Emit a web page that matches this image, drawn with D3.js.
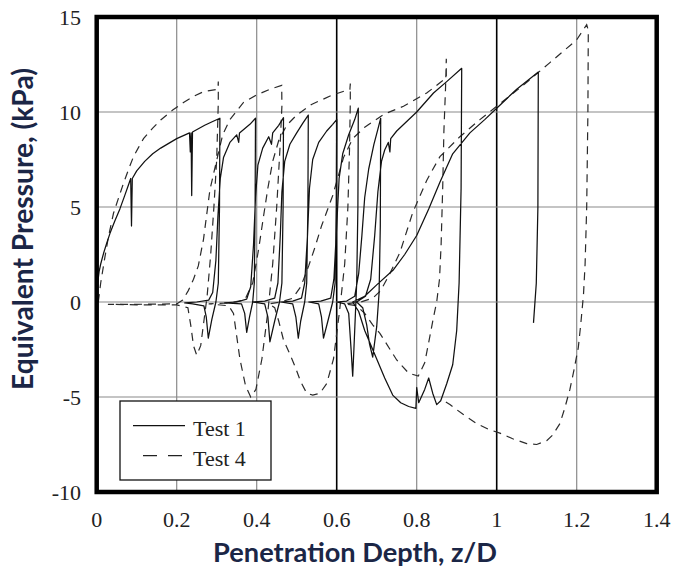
<!DOCTYPE html>
<html><head><meta charset="utf-8">
<script src="https://cdn.jsdelivr.net/npm/d3@7"></script>
<style>
html,body{margin:0;padding:0;background:#fff;}
svg{display:block;}
</style></head>
<body>
<script>
// ---------- data ----------
const xTicks = [0, 0.2, 0.4, 0.6, 0.8, 1, 1.2, 1.4];
const yTicks = [-10, -5, 0, 5, 10, 15];
const xTickLabels = ["0", "0.2", "0.4", "0.6", "0.8", "1", "1.2", "1.4"];
const yTickLabels = ["-10", "-5", "0", "5", "10", "15"];
const xTitle = "Penetration Depth, z/D";
const yTitle = "Equivalent Pressure, (kPa)";
const seriesNames = ["Test 1", "Test 4"];

// Test 1 (solid): [z/D, kPa]
const test1 = [
 [0,0],[0.001,0.6],[0.003,1.1],[0.006,1.6],[0.01,2.0],[0.017,2.55],[0.025,3.1],[0.033,3.6],[0.045,4.25],[0.058,4.9],[0.07,5.6],[0.08,6.2],[0.085,6.5],[0.087,4.0],[0.089,6.5],
 [0.1,6.9],[0.12,7.4],[0.14,7.8],[0.16,8.1],[0.18,8.35],[0.2,8.6],[0.232,8.9],[0.234,7.9],[0.236,8.9],[0.2375,5.6],[0.2395,8.95],[0.27,9.3],[0.29,9.5],[0.308,9.67],
 [0.307,5],[0.304,1],[0.298,0],[0.288,-0.9],[0.279,-1.9],[0.274,-0.8],[0.268,-0.2],[0.24,-0.1],[0.22,-0.05],
 [0.25,0],[0.28,0.1],[0.29,0.5],[0.298,2.2],[0.303,4.5],[0.309,6.5],[0.317,7.6],[0.333,8.4],[0.35,8.8],[0.355,8.4],[0.357,8.9],[0.383,9.35],[0.397,9.67],
 [0.396,5],[0.394,1],[0.39,0],[0.382,-0.8],[0.375,-1.6],[0.37,-0.6],[0.362,-0.1],[0.32,-0.05],
 [0.35,0],[0.375,0.15],[0.385,0.8],[0.392,3],[0.397,5.5],[0.403,7.2],[0.415,8.1],[0.43,8.7],[0.437,8.3],[0.44,8.9],[0.455,9.3],[0.467,9.7],
 [0.466,5],[0.463,1],[0.457,0],[0.445,-1],[0.433,-2.1],[0.428,-0.8],[0.42,-0.1],[0.39,0],
 [0.42,0.05],[0.445,0.2],[0.453,1],[0.459,3.5],[0.463,5.8],[0.47,7.4],[0.483,8.3],[0.5,8.9],[0.515,9.4],[0.529,9.84],
 [0.528,5],[0.525,1],[0.52,0],[0.51,-1],[0.504,-1.9],[0.498,-0.8],[0.49,-0.1],[0.46,0],
 [0.49,0.05],[0.512,0.2],[0.52,1],[0.527,3.5],[0.532,6],[0.54,7.5],[0.555,8.4],[0.575,9],[0.59,9.35],[0.6,9.6],
 [0.599,5],[0.596,1],[0.59,0],[0.578,-1],[0.567,-1.9],[0.562,-0.8],[0.555,-0.1],[0.53,0],
 [0.56,0.05],[0.585,0.2],[0.593,1.2],[0.6,4],[0.606,6.5],[0.615,7.8],[0.63,8.8],[0.645,9.6],[0.654,10.2],
 [0.653,5],[0.65,1],[0.647,-0.5],[0.643,-2.5],[0.64,-3.9],[0.636,-2.5],[0.63,-0.6],[0.62,-0.1],[0.6,0],
 [0.625,0.05],[0.645,0.3],[0.655,1.5],[0.663,3.5],[0.67,5.5],[0.68,7],[0.693,8.3],[0.703,9.1],[0.71,9.67],
 [0.709,4],[0.706,0.5],[0.7,-1.3],[0.69,-2.9],[0.682,-2.2],[0.675,-1.2],[0.665,-0.3],[0.65,0],
 [0.672,0.3],[0.685,1.2],[0.695,3.5],[0.703,5.8],[0.712,7.4],[0.72,8],[0.729,8.4],[0.733,7.9],[0.735,8.6],[0.75,9],[0.775,9.5],[0.8,10],[0.842,11],[0.875,11.6],[0.9125,12.3],
 [0.911,6],[0.906,1],[0.9,-1.5],[0.89,-3.3],[0.875,-4.3],[0.86,-5.2],[0.85,-5.4],[0.84,-4.8],[0.83,-4.0],[0.82,-4.6],[0.805,-5.3],[0.8,-4.5],[0.798,-5.6],[0.78,-5.5],[0.76,-5.3],[0.74,-4.9],[0.72,-4],[0.7,-3],[0.69,-2.5],[0.67,-1.5],[0.655,-0.5],[0.64,0],
 [0.67,0.3],[0.7,0.9],[0.742,1.7],[0.77,2.5],[0.8,3.5],[0.83,4.9],[0.858,6.3],[0.89,7.8],[0.933,8.9],[0.97,9.6],[1.0,10.2],[1.05,11.2],[1.104,12.1],
 [1.103,5],[1.099,1],[1.092,-1.1]
];

// Test 4 (dashed): [z/D, kPa]
const test4 = [
 [0.004,0],[0.01,1.0],[0.02,2.3],[0.03,3.5],[0.042,4.67],[0.055,5.5],[0.067,6.25],[0.08,7.0],[0.092,7.65],[0.105,8.15],[0.117,8.6],[0.14,9.15],[0.16,9.58],[0.19,10.1],[0.217,10.5],[0.245,10.85],[0.267,11.07],[0.303,11.2],[0.304,11.6],
 [0.304,10.5],[0.3,7.5],[0.293,5],[0.285,2.5],[0.276,0.3],[0.268,-1],[0.26,-2.3],[0.25,-2.8],[0.242,-2.3],[0.235,-1.2],[0.228,-0.3],[0.2,-0.15],[0.1,-0.15],[0.028,-0.12],
 [0.1,-0.12],[0.2,-0.1],[0.215,0.1],[0.229,0.6],[0.242,1.2],[0.254,1.9],[0.267,3.3],[0.283,5.9],[0.296,7.1],[0.315,8.8],[0.333,9.6],[0.367,10.5],[0.4,10.9],[0.433,11.2],[0.4625,11.4],
 [0.463,10.3],[0.458,8],[0.45,5],[0.44,2],[0.428,-0.5],[0.413,-3],[0.398,-4.6],[0.385,-5],[0.372,-4.4],[0.358,-3.0],[0.35,-1.8],[0.342,-0.6],[0.33,-0.2],[0.28,-0.1],
 [0.33,-0.05],[0.37,0.1],[0.39,1],[0.405,2.8],[0.417,4.5],[0.428,6],[0.44,7.4],[0.455,8.5],[0.475,9.3],[0.5,9.84],[0.537,10.4],[0.59,10.9],[0.633,11.2],[0.634,11.5],
 [0.634,10.5],[0.632,8],[0.628,5],[0.62,2],[0.607,-0.5],[0.592,-3],[0.575,-4.3],[0.558,-4.8],[0.54,-4.9],[0.525,-4.8],[0.51,-4.2],[0.496,-3.4],[0.48,-2.6],[0.467,-2],[0.455,-1],[0.445,-0.3],[0.43,-0.1],
 [0.46,0],[0.49,0.2],[0.51,0.8],[0.53,1.9],[0.546,2.9],[0.562,4],[0.59,5.6],[0.617,7.6],[0.64,8.6],[0.67,9.2],[0.72,9.9],[0.767,10.3],[0.825,11],[0.862,11.6],[0.874,11.8],[0.874,12.8],
 [0.872,11.2],[0.868,9],[0.865,6],[0.861,3],[0.857,1.2],[0.85,0],[0.842,-0.8],[0.833,-1.8],[0.82,-3.2],[0.804,-3.9],[0.78,-3.75],[0.75,-3.05],[0.708,-1.65],[0.69,-1.2],[0.67,-0.6],[0.65,-0.2],[0.62,-0.1],
 [0.66,0],[0.69,0.2],[0.71,0.6],[0.733,1.5],[0.758,2.6],[0.79,4.7],[0.825,6.4],[0.858,7.65],[0.908,8.7],[0.958,9.6],[1.0,10.3],[1.066,11.4],[1.133,12.6],[1.2,13.8],[1.225,14.6],
 [1.229,14.3],[1.228,10],[1.225,5],[1.221,2],[1.217,0.4],[1.21,-1.2],[1.204,-2.4],[1.193,-3.6],[1.183,-4.6],[1.17,-5.6],[1.158,-6.4],[1.14,-7],[1.125,-7.3],[1.1,-7.5],[1.075,-7.45],[1.04,-7.2],[1.008,-6.9],[0.98,-6.7],[0.95,-6.4],[0.915,-5.9],[0.883,-5.4],[0.86,-5.1]
];

// ---------- drawing ----------
const W = 677, H = 575;
const svg = d3.select("body").append("svg").attr("width", W).attr("height", H);
const x = d3.scaleLinear().domain([0, 1.4]).range([96.7, 656.7]);
const y = d3.scaleLinear().domain([-10, 15]).range([492, 17]);

const serif = "'Liberation Serif','Times New Roman',serif";
const sans = "Lato,'Open Sans','Noto Sans',sans-serif";

const isDark = d => Math.abs(d - 0.6) < 1e-9 || Math.abs(d - 1) < 1e-9;

// gridlines
const g = svg.append("g");
g.selectAll("line.vg").data(xTicks.filter(d => d > 0 && d < 1.4)).enter().append("line")
  .attr("x1", d => x(d)).attr("x2", d => x(d)).attr("y1", y(15)).attr("y2", y(-10))
  .attr("stroke", d => isDark(d) ? "#000" : "#8a8a8a")
  .attr("stroke-width", d => isDark(d) ? 1.6 : 1.2);
g.selectAll("line.hg").data(yTicks.filter(d => d > -10 && d < 15)).enter().append("line")
  .attr("x1", x(0)).attr("x2", x(1.4)).attr("y1", d => y(d)).attr("y2", d => y(d))
  .attr("stroke", "#8a8a8a").attr("stroke-width", 1.2);

// series
const line = d3.line().x(d => x(d[0])).y(d => y(d[1]));
svg.append("path").datum(test4).attr("d", line).attr("fill", "none")
  .attr("stroke", "#2a2a2a").attr("stroke-width", 1.2).attr("stroke-dasharray", "8,6");
svg.append("path").datum(test1).attr("d", line).attr("fill", "none")
  .attr("stroke", "#111").attr("stroke-width", 1.25).attr("stroke-linejoin", "round");

// frame
svg.append("rect").attr("x", x(0)).attr("y", y(15)).attr("width", x(1.4) - x(0)).attr("height", y(-10) - y(15))
  .attr("fill", "none").attr("stroke", "#000").attr("stroke-width", 4.5);

// tick labels
svg.selectAll("text.xt").data(xTicks).enter().append("text")
  .attr("x", d => x(d)).attr("y", 527).attr("text-anchor", "middle")
  .attr("font-family", serif).attr("font-size", 22).attr("fill", "#222")
  .text((d, i) => xTickLabels[i]);
svg.selectAll("text.yt").data(yTicks).enter().append("text")
  .attr("x", 81).attr("y", d => y(d)).attr("dy", "0.35em").attr("text-anchor", "end")
  .attr("font-family", serif).attr("font-size", 22).attr("fill", "#222")
  .text((d, i) => yTickLabels[i]);

// axis titles
function fit(sel, target) {
  const fs = 20;
  sel.attr("font-size", fs);
  const len = sel.node().getComputedTextLength();
  sel.attr("font-size", fs * target / len);
}
const xt = svg.append("text").attr("x", 355).attr("y", 562).attr("text-anchor", "middle")
  .attr("font-family", sans).attr("font-weight", "bold").attr("fill", "#1b2646").text(xTitle);
fit(xt, 284);
const yt = svg.append("text").attr("transform", "translate(33,229) rotate(-90)").attr("text-anchor", "middle")
  .attr("font-family", sans).attr("font-weight", "bold").attr("fill", "#1b2646").text(yTitle);
fit(yt, 322);

// legend
const lg = svg.append("g");
lg.append("rect").attr("x", 120).attr("y", 401).attr("width", 151).attr("height", 79)
  .attr("fill", "#fff").attr("stroke", "#111").attr("stroke-width", 1.3);
lg.append("line").attr("x1", 133).attr("x2", 185).attr("y1", 425.7).attr("y2", 425.7)
  .attr("stroke", "#111").attr("stroke-width", 1.3);
lg.append("line").attr("x1", 143).attr("x2", 183).attr("y1", 455.7).attr("y2", 455.7)
  .attr("stroke", "#222").attr("stroke-width", 1.3).attr("stroke-dasharray", "14,11");
lg.selectAll("text").data(seriesNames).enter().append("text")
  .attr("x", 193).attr("y", (d, i) => 436 + i * 29.5)
  .attr("font-family", serif).attr("font-size", 22).attr("fill", "#222").text(d => d);
</script>
</body></html>
